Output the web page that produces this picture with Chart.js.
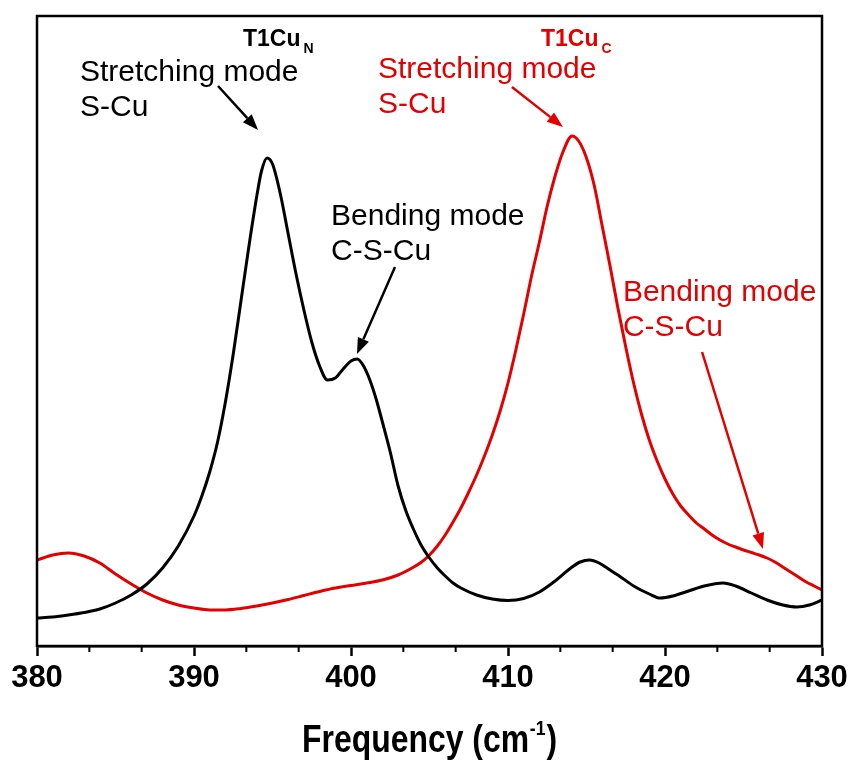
<!DOCTYPE html>
<html><head><meta charset="utf-8">
<script src="https://cdn.jsdelivr.net/npm/chart.js@4.4.1/dist/chart.umd.min.js"></script>
<style>html,body{margin:0;padding:0;background:#fff}#wrap{width:850px;height:760px}</style>
</head><body><div id="wrap"><canvas id="c" width="850" height="760"></canvas></div>
<script>
// ---- data (frequency in cm^-1, intensity in arbitrary units) ----
const freqN = [380,381,382,383,384,385,386,387,388,389,390,390.5,391,391.5,392,392.5,393,393.5,394,394.3,394.65,395,395.5,396,396.5,397,397.5,398,398.5,399,399.5,400,400.4,400.8,401.2,401.6,402,402.5,403,403.5,404,404.5,405,405.5,406,406.5,407,408,409,410,411,412,413,414,414.6,415.2,415.8,416.5,417,418,419,419.7,420.5,421.5,422.5,423.7,424.5,425.5,426.5,427.5,428.4,429.2,430];
const intN  = [28,29,31,33.5,37,43,51,62,78,100,130,150,174,204,244,292,346,400,450,475,488,482,452,412,372,336,304,280,266,268,277,285,287,280,266,247,224,194,160,135,116,100,88,78,70,63,58,51,47,45.5,47.5,54,65,78,84,86,83,76,71,60,52,48,50,55,60,63,60,53,46,41,39,41,46];
const freqC = [380,381,382,383,384,385,386,387,388,389,390,391,392,393,394,395,396,397,398,399,400,401,402,403,404,404.5,405,405.5,406,406.5,407,407.5,408,408.5,409,409.5,410,410.5,411,411.5,412,412.5,413,413.5,414.08,414.5,415,415.5,416,416.5,417,417.5,418,418.5,419,419.5,420,420.5,421,421.5,422,422.5,423,423.5,424,424.5,425,425.5,426,426.5,427,427.5,428,428.5,429,429.5,430];
const intC  = [86,91,93,90,83,72,62,53,46,41,38,36,36,37.5,40,43,46.5,50.5,54.5,58,60.5,63,66,71,79,84,91,100,111,124,138,154,171,190,211,235,263,296,332,370,404,440,470,494,510,505,488,460,420,380,338,299,263,232,206,185,167,152,140,131,123,117,111,106,102,99,96,93.5,91,88,84,79,74,69,64,60,56];
const xMajorTicks = [380,390,400,410,420,430];
const seriesNames = ['T1Cu_N','T1Cu_C'];

const BLACK = '#000000';
const RED = '#e40000';

// annotations in data coordinates (freq, intensity)
const labels = [
  {lines:['Stretching mode','S-Cu'], x:382.74, y:573, color:BLACK},
  {lines:['Bending mode','C-S-Cu'], x:398.73, y:429, color:BLACK},
  {lines:['Stretching mode','S-Cu'], x:401.72, y:576, color:RED},
  {lines:['Bending mode','C-S-Cu'], x:417.32, y:353, color:RED}
];
const titles = [
  {main:'T1Cu', sub:'N', x:393.12, y:606, color:BLACK},
  {main:'T1Cu', sub:'C', x:412.10, y:606, color:RED}
];
const arrows = [
  {x1:391.53, y1:560, x2:394.08, y2:516, color:BLACK},
  {x1:402.80, y1:379, x2:400.38, y2:292, color:BLACK},
  {x1:410.25, y1:559, x2:413.50, y2:519, color:RED},
  {x1:422.36, y1:294, x2:426.24, y2:97, color:RED}
];

const toXY = (xs, ys) => xs.map((x,i)=>({x:x, y:ys[i]}));

const decor = {
  id:'decor',
  afterDraw(chart){
    const ctx = chart.ctx, a = chart.chartArea;
    const xs = chart.scales.x, ys = chart.scales.y;
    ctx.save();
    // frame
    ctx.strokeStyle = '#000'; ctx.lineWidth = 2.5;
    ctx.strokeRect(a.left, a.top, a.right - a.left, a.bottom - a.top);
    // minor ticks
    ctx.lineWidth = 2;
    for (let k = 0; k <= 15; k++) {
      if (k % 3 === 0) continue;
      const px = xs.getPixelForValue(380 + k * 10 / 3);
      ctx.beginPath(); ctx.moveTo(px, a.bottom); ctx.lineTo(px, a.bottom + 6); ctx.stroke();
    }
    // axis title with superscript (condensed)
    const sx = 0.84;
    const bigF = 'bold 38px "Liberation Sans", Arial, sans-serif';
    const supF = 'bold 21px "Liberation Sans", Arial, sans-serif';
    ctx.fillStyle = '#000'; ctx.textBaseline = 'alphabetic'; ctx.textAlign = 'left';
    const t1 = 'Frequency (cm', t2 = '-1', t3 = ')';
    ctx.font = bigF; const w1 = ctx.measureText(t1).width, w3 = ctx.measureText(t3).width;
    ctx.font = supF; const w2 = ctx.measureText(t2).width;
    const total = (w1 + w2 + w3 + 2) * sx;
    const cx = (a.left + a.right) / 2 - total / 2;
    const base = 752;
    ctx.save();
    ctx.translate(cx, base); ctx.scale(sx, 1);
    let tx = 0;
    ctx.font = bigF; ctx.fillText(t1, tx, 0); tx += w1 + 1;
    ctx.font = supF; ctx.fillText(t2, tx, -17); tx += w2 + 1;
    ctx.font = bigF; ctx.fillText(t3, tx, 0);
    ctx.restore();
    // series titles
    titles.forEach(t => {
      const px = xs.getPixelForValue(t.x), py = ys.getPixelForValue(t.y);
      ctx.fillStyle = t.color; ctx.textBaseline = 'middle';
      ctx.font = 'bold 23px "Liberation Sans", Arial, sans-serif';
      ctx.fillText(t.main, px, py);
      const w = ctx.measureText(t.main).width;
      ctx.font = 'bold 14px "Liberation Sans", Arial, sans-serif';
      ctx.fillText(t.sub, px + w + 3, py + 9);
    });
    // labels
    ctx.font = '30px "Liberation Sans", Arial, sans-serif';
    ctx.textBaseline = 'middle';
    labels.forEach(l => {
      const px = xs.getPixelForValue(l.x), py = ys.getPixelForValue(l.y);
      ctx.fillStyle = l.color;
      l.lines.forEach((s, i) => ctx.fillText(s, px, py + i * 35));
    });
    // arrows
    arrows.forEach(ar => {
      const x1 = xs.getPixelForValue(ar.x1), y1 = ys.getPixelForValue(ar.y1);
      const x2 = xs.getPixelForValue(ar.x2), y2 = ys.getPixelForValue(ar.y2);
      const ang = Math.atan2(y2 - y1, x2 - x1);
      const hl = 16, hw = 6;
      const bx = x2 - hl * Math.cos(ang), by = y2 - hl * Math.sin(ang);
      ctx.strokeStyle = ar.color; ctx.fillStyle = ar.color; ctx.lineWidth = 2.5;
      ctx.beginPath(); ctx.moveTo(x1, y1); ctx.lineTo(bx, by); ctx.stroke();
      ctx.beginPath();
      ctx.moveTo(x2, y2);
      ctx.lineTo(bx + hw * Math.sin(ang), by - hw * Math.cos(ang));
      ctx.lineTo(bx - hw * Math.sin(ang), by + hw * Math.cos(ang));
      ctx.closePath(); ctx.fill();
    });
    ctx.restore();
  }
};

new Chart(document.getElementById('c'), {
  type: 'scatter',
  data: {
    datasets: [
      {label: seriesNames[0], data: toXY(freqN, intN), showLine: true, borderColor: BLACK, borderWidth: 3, pointRadius: 0, cubicInterpolationMode: 'monotone', fill: false},
      {label: seriesNames[1], data: toXY(freqC, intC), showLine: true, borderColor: RED, borderWidth: 3, pointRadius: 0, cubicInterpolationMode: 'monotone', fill: false}
    ]
  },
  options: {
    responsive: false, animation: false, devicePixelRatio: 1,
    layout: {padding: {left: 37, right: 28, top: 16, bottom: 0}},
    plugins: {legend: {display: false}, tooltip: {enabled: false}},
    scales: {
      x: {
        type: 'linear', min: 380, max: 430,
        afterBuildTicks: (s) => { s.ticks = xMajorTicks.map(v => ({value: v})); },
        afterFit: (s) => { s.height = 114; s.paddingLeft = 0; s.paddingRight = 0; },
        ticks: {color: '#000', padding: 4, maxRotation: 0,
          font: {family: '"Liberation Sans", Arial, sans-serif', weight: 'bold', size: 31}},
        grid: {drawOnChartArea: false, drawTicks: true, tickLength: 10, tickWidth: 2.5, tickColor: '#000'},
        border: {display: true, color: '#000', width: 2.5}
      },
      y: {display: false, min: 0, max: 630}
    }
  },
  plugins: [decor]
});
</script></body></html>
